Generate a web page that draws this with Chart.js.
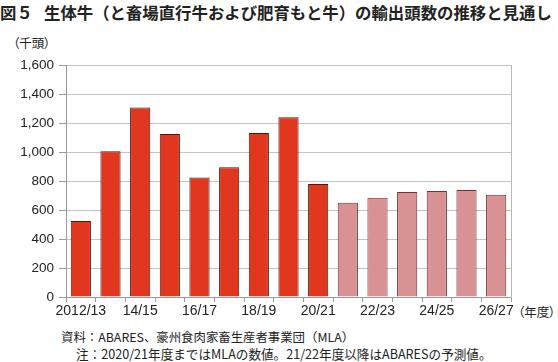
<!DOCTYPE html>
<html>
<head>
<meta charset="utf-8">
<script src="https://cdn.jsdelivr.net/npm/chart.js@4"></script>
<style>
  body { margin: 0; width: 558px; height: 362px; background: #fff; position: relative; overflow: hidden;
         font-family: "Noto Sans CJK JP", "Liberation Sans", sans-serif; color: #222; }
  .txt { position: absolute; white-space: nowrap; }
  .title { top: 0; font-size: 16.4px; font-weight: bold; }
  #fig { left: 0; }
  #title { left: 44px; }
  #unit { left: 13px; top: 33px; font-size: 12.5px; font-feature-settings: "palt"; }
  #nendo { left: 518px; top: 302px; font-size: 12.5px; font-feature-settings: "palt"; }
  #src { left: 61px; top: 328px; font-size: 12.4px; }
  #note { left: 76px; top: 344px; font-size: 12.6px; }
  #wrap { position: absolute; left: 0; top: 52px; width: 558px; height: 268px; }
</style>
</head>
<body>
<div class="txt title" id="fig">図５</div>
<div class="txt title" id="title">生体牛（と畜場直行牛および肥育もと牛）の輸出頭数の推移と見通し</div>
<div class="txt" id="unit">（千頭）</div>
<div class="txt" id="nendo">（年度）</div>
<div class="txt" id="src">資料：ABARES、豪州食肉家畜生産者事業団（MLA）</div>
<div class="txt" id="note">注：2020/21年度まではMLAの数値。21/22年度以降はABARESの予測値。</div>
<div id="wrap"><canvas id="chart"></canvas></div>
<script>
// fiscal years on the x axis
const years = ['2012/13', '13/14', '14/15', '15/16', '16/17', '17/18', '18/19', '19/20',
               '20/21', '21/22', '22/23', '23/24', '24/25', '25/26', '26/27'];
// live cattle exports, thousand head
const exportsK = [525, 1005, 1308, 1125, 825, 895, 1132, 1240, 780, 650, 685, 725, 732, 738, 705];
// index of the first ABARES forecast year
const forecastFrom = 9;

const actualColor = '#e2371f';
const forecastColor = '#d99294';

new Chart(document.getElementById('chart'), {
    type: 'bar',
    data: {
        labels: years,
        datasets: [{
            data: exportsK,
            backgroundColor: exportsK.map((_, i) => i >= forecastFrom ? forecastColor : actualColor),
            borderColor: exportsK.map((_, i) => i >= forecastFrom ? '#6b3434' : '#4a1810'),
            borderWidth: 1,
            categoryPercentage: 1,
            barPercentage: 0.68
        }]
    },
    options: {
        responsive: true,
        maintainAspectRatio: false,
        animation: false,
        layout: { padding: { top: 9, right: 47, left: 0, bottom: 0 } },
        plugins: { legend: { display: false }, tooltip: { enabled: false } },
        scales: {
            x: {
                offset: true,
                grid: { offset: true, drawOnChartArea: false, drawTicks: true, tickLength: 5, color: '#999' },
                border: { color: '#999' },
                ticks: {
                    autoSkip: false, maxRotation: 0, padding: 1,
                    color: '#222', font: { family: 'Liberation Sans', size: 14 },
                    callback: (v, i) => i % 2 === 0 ? years[i] : ''
                },
                afterFit: s => { s.height = 23; }
            },
            y: {
                min: 0, max: 1600,
                ticks: {
                    stepSize: 200, padding: 5, color: '#222',
                    font: { family: 'Liberation Sans', size: 13.5 },
                    callback: v => v.toLocaleString('en-US')
                },
                grid: { color: '#c4c4c4', tickLength: 7, tickColor: '#999' },
                border: { color: '#999' },
                afterFit: s => { s.width = 66; }
            },
            y2: {
                position: 'right', min: 0, max: 1600,
                ticks: { display: false },
                grid: { drawOnChartArea: false, drawTicks: false },
                border: { color: '#b8b8b8' },
                afterFit: s => { s.width = 0; }
            }
        }
    }
});
</script>
</body>
</html>
